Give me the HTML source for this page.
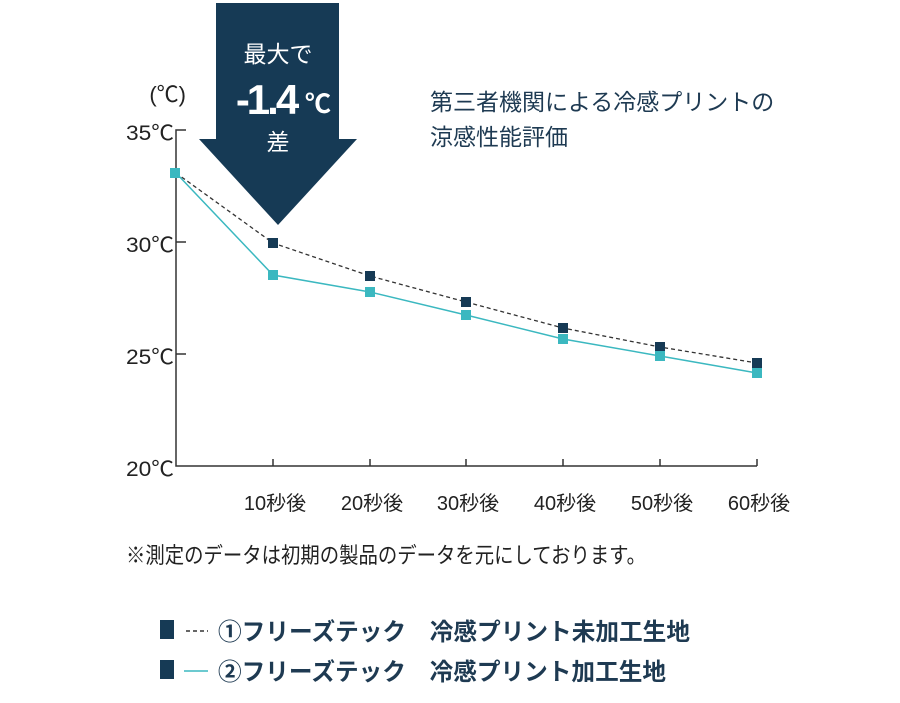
<!DOCTYPE html>
<html><head><meta charset="utf-8"><style>
html,body{margin:0;padding:0;background:#fff;}
body{width:900px;height:703px;overflow:hidden;position:relative;font-family:"Liberation Sans","Noto Sans CJK JP",sans-serif;}
svg{position:absolute;left:0;top:0;}
</style></head><body>
<svg width="900" height="703" viewBox="0 0 900 703" xmlns="http://www.w3.org/2000/svg">
<polygon points="216,3 339,3 339,139 357,139 278,225 199,139 216,139" fill="#163a55"/>
<g font-family="Liberation Sans,Noto Sans CJK JP,sans-serif" fill="#fff" text-anchor="middle">
<text x="278" y="62" font-size="23">最大で</text>
<text x="266" y="114" font-size="42" font-weight="bold" letter-spacing="-3">-1.4</text>
<text x="318" y="113" font-size="26" font-weight="bold">℃</text>
<text x="278" y="150" font-size="23">差</text>
</g>
<g fill="none" stroke="#333" stroke-width="1.5">
<path d="M186,130 H176 V466 H757"/>
<path d="M176,242 H186 M176,354 H186"/>
<path d="M273,466 V459 M370,466 V459 M466,466 V459 M563,466 V459 M660,466 V459 M757,466 V459"/>
</g>
<g font-family="Liberation Sans,Noto Sans CJK JP,sans-serif" fill="#222" font-size="21" text-anchor="end">
<text x="174" y="140" textLength="48" lengthAdjust="spacingAndGlyphs">35℃</text>
<text x="174" y="252" textLength="48" lengthAdjust="spacingAndGlyphs">30℃</text>
<text x="174" y="364" textLength="48" lengthAdjust="spacingAndGlyphs">25℃</text>
<text x="174" y="476" textLength="48" lengthAdjust="spacingAndGlyphs">20℃</text>
<text x="186" y="102" font-size="22">(℃)</text>
</g>
<g font-family="Liberation Sans,Noto Sans CJK JP,sans-serif" fill="#222" font-size="20" text-anchor="middle">
<text x="275" y="510">10秒後</text><text x="372" y="510">20秒後</text><text x="468" y="510">30秒後</text>
<text x="565" y="510">40秒後</text><text x="662" y="510">50秒後</text><text x="759" y="510">60秒後</text>
</g>
<polyline points="176,173 273,243 370,276 466,302 563,328 660,347 757,363" fill="none" stroke="#333" stroke-width="1.3" stroke-dasharray="4,3"/>
<polyline points="176,173 273,275 370,292 466,315 563,339 660,356 757,373" fill="none" stroke="#3bb8c0" stroke-width="1.5"/>
<g fill="#163a55">
<rect x="268" y="238" width="10" height="10"/><rect x="365" y="271" width="10" height="10"/><rect x="461" y="297" width="10" height="10"/>
<rect x="558" y="323" width="10" height="10"/><rect x="655" y="342" width="10" height="10"/><rect x="752" y="358" width="10" height="10"/>
</g>
<g fill="#3bb8c0">
<rect x="170" y="168" width="10" height="10"/><rect x="268" y="270" width="10" height="10"/><rect x="365" y="287" width="10" height="10"/><rect x="461" y="310" width="10" height="10"/>
<rect x="558" y="334" width="10" height="10"/><rect x="655" y="351" width="10" height="10"/><rect x="752" y="368" width="10" height="10"/>
</g>
<g font-family="Liberation Sans,Noto Sans CJK JP,sans-serif" fill="#1e3a52" font-size="23">
<text x="430" y="110">第三者機関による冷感プリントの</text>
<text x="430" y="145">涼感性能評価</text>
</g>
<text x="126" y="563" font-family="Liberation Sans,Noto Sans CJK JP,sans-serif" fill="#222" font-size="22" textLength="520" lengthAdjust="spacingAndGlyphs">※測定のデータは初期の製品のデータを元にしております。</text>
<rect x="160" y="620" width="14" height="19" fill="#163a55"/>
<rect x="160" y="660" width="14" height="19" fill="#163a55"/>
<path d="M186,631 H208" stroke="#333" stroke-width="1.5" stroke-dasharray="4,3"/>
<path d="M184,671 H208" stroke="#3bb8c0" stroke-width="1.5"/>
<g font-family="Liberation Sans,Noto Sans CJK JP,sans-serif" fill="#1e3a52" font-size="24" font-weight="bold">
<text x="218" y="640" textLength="472" lengthAdjust="spacingAndGlyphs">①フリーズテック　冷感プリント未加工生地</text>
<text x="218" y="680" textLength="448" lengthAdjust="spacingAndGlyphs">②フリーズテック　冷感プリント加工生地</text>
</g>
</svg>
</body></html>
